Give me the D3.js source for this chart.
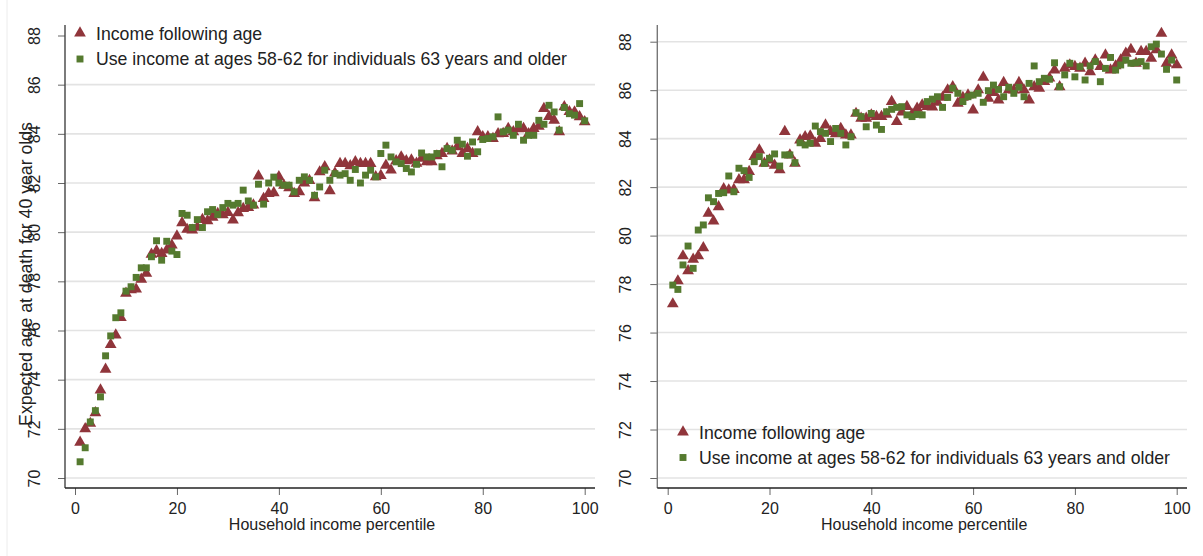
<!DOCTYPE html>
<html>
<head>
<meta charset="utf-8">
<script src="https://cdn.jsdelivr.net/npm/d3@7"></script>
<style>
  body { margin: 0; background: #fff; }
  svg { display: block; }
</style>
</head>
<body>
<div id="chart"></div>
<script>
// household income percentile (x categories)
const percentiles = [1,2,3,4,5,6,7,8,9,10,11,12,13,14,15,16,17,18,19,20,
  21,22,23,24,25,26,27,28,29,30,31,32,33,34,35,36,37,38,39,40,
  41,42,43,44,45,46,47,48,49,50,51,52,53,54,55,56,57,58,59,60,
  61,62,63,64,65,66,67,68,69,70,71,72,73,74,75,76,77,78,79,80,
  81,82,83,84,85,86,87,88,89,90,91,92,93,94,95,96,97,98,99,100];

const xTicks = [0, 20, 40, 60, 80, 100];
const yTicks = [70, 72, 74, 76, 78, 80, 82, 84, 86, 88];
const legendLabels = ["Income following age", "Use income at ages 58-62 for individuals 63 years and older"];
const xTitle = "Household income percentile";
const yTitle = "Expected age at death for 40 year olds";

// left panel
const leftFollowAge = [71.45,72.0,72.22,72.65,73.58,74.42,75.43,75.81,76.52,77.51,
  77.65,77.68,78.08,78.32,79.1,79.24,79.13,79.27,79.47,79.84,
  80.38,80.11,80.08,80.2,80.51,80.46,80.6,80.76,80.7,80.8,
  80.49,80.79,80.96,81.0,81.1,82.28,81.37,81.57,81.6,82.25,
  81.9,81.8,81.57,81.64,82.0,82.1,81.4,82.45,82.66,81.68,
  82.4,82.79,82.79,82.7,82.86,82.79,82.79,82.79,82.25,82.3,
  82.72,82.52,82.9,83.06,82.9,82.93,82.8,83.0,82.86,82.86,
  83.1,83.2,83.4,83.3,83.47,83.2,83.4,83.2,84.08,83.88,
  83.88,83.81,84.0,84.01,84.21,84.08,84.2,84.21,84.0,84.21,
  84.3,85.03,84.7,84.55,84.08,85.1,84.9,84.89,84.69,84.49];
const leftFixedIncome = [70.66,71.23,72.28,72.74,73.3,74.97,75.78,76.52,76.72,77.6,
  77.78,78.16,78.55,78.55,79.0,79.65,78.86,79.63,79.23,79.09,
  80.76,80.69,80.19,80.51,80.19,80.83,80.92,80.72,81.0,81.17,
  81.1,81.17,81.71,81.27,81.1,81.95,81.14,82.0,82.24,82.0,
  81.91,81.91,81.64,82.11,82.25,82.11,81.5,81.84,82.52,82.11,
  82.38,82.32,82.38,82.11,82.55,82.0,82.32,82.52,82.25,83.2,
  83.54,83.06,82.86,82.79,82.59,82.45,82.76,83.22,83.06,83.06,
  83.2,82.66,83.4,83.33,83.74,83.58,83.09,83.67,83.27,83.77,
  83.81,83.88,84.69,84.08,84.15,83.94,84.39,83.74,83.94,83.94,
  84.55,84.39,85.16,84.89,84.15,85.07,84.82,84.76,85.23,84.53];

// right panel
const rightFollowAge = [77.18,78.13,79.16,78.55,79.02,79.16,79.5,80.92,80.6,81.19,
  81.93,81.88,81.9,82.3,82.3,82.64,83.26,83.53,82.98,83.12,
  82.9,82.71,84.29,83.32,82.98,83.94,84.08,84.11,83.81,84.0,
  84.56,84.29,84.2,84.42,84.15,84.15,85.04,84.84,84.84,84.97,
  84.91,84.91,85.0,85.53,84.7,85.1,85.32,85.0,85.25,85.39,
  85.32,85.3,85.5,85.7,86.01,86.14,85.46,85.7,85.8,85.18,
  86.01,86.53,85.66,85.9,85.59,86.31,86.01,86.0,86.31,86.01,
  85.59,86.14,86.08,86.35,86.5,86.83,86.14,86.9,87.04,86.97,
  86.9,87.11,86.76,87.24,86.97,87.45,86.83,87.0,87.24,87.52,
  87.68,87.11,87.59,87.59,87.31,87.66,88.34,87.11,87.45,87.04];
const rightFixedIncome = [77.96,77.78,78.79,79.57,78.65,80.23,80.44,81.56,81.4,81.74,
  81.77,82.46,81.81,82.78,82.68,82.4,83.05,83.26,82.98,83.19,
  83.37,82.87,83.33,83.33,83.01,83.83,83.74,83.81,84.52,84.29,
  84.22,83.88,84.42,84.22,83.74,84.08,85.07,84.91,84.49,85.04,
  84.56,84.38,85.11,85.21,85.29,85.32,84.98,84.91,85.0,84.98,
  85.53,85.63,85.73,85.29,85.7,86.08,85.87,85.53,85.73,85.8,
  85.87,85.5,85.98,86.21,86.03,85.73,86.12,85.87,86.12,85.73,
  86.28,87.0,86.35,86.49,86.45,87.13,86.14,86.63,87.11,86.55,
  86.97,86.42,87.0,87.18,86.35,86.9,87.35,86.83,87.04,87.24,
  87.11,87.13,87.18,87.0,87.79,87.9,87.49,86.86,87.24,86.42];

const W = 1203, H = 556;
const font = "'Liberation Sans', Arial, sans-serif";
const maroon = "#90353b", green = "#557a2f";

const svg = d3.select("#chart").append("svg")
  .attr("width", W).attr("height", H)
  .style("font-family", font);

// faint border of graph region
svg.append("line").attr("x1", 7).attr("x2", 7).attr("y1", 0).attr("y2", H)
  .attr("stroke", "#ececec").attr("stroke-width", 1);

const triangle = d3.symbol().type(d3.symbolTriangle).size(60);
const square = d3.symbol().type(d3.symbolSquare).size(48);

function drawPanel(p) {
  const x = d3.scaleLinear().domain([0, 100]).range([p.x0, p.x100]);
  const y = d3.scaleLinear().domain([70, 88]).range([p.y70, p.y88]);
  const g = svg.append("g");

  // grid
  g.selectAll("line.grid").data(yTicks.filter(p.gridFilter)).join("line")
    .attr("class", "grid")
    .attr("x1", p.axisX).attr("x2", p.right)
    .attr("y1", d => y(d)).attr("y2", d => y(d))
    .attr("stroke", "#e3e3e3").attr("stroke-width", 1.6);

  // y axis
  const ya = g.append("g").attr("transform", `translate(${p.axisX},0)`)
    .call(d3.axisLeft(y).tickValues(yTicks).tickSize(7).tickSizeOuter(0));
  ya.select(".domain").remove();
  ya.selectAll(".tick line").attr("stroke", "#666");
  ya.selectAll(".tick text")
    .attr("transform", "rotate(-90)")
    .attr("x", 0).attr("y", -p.yLabOff).attr("dy", 0)
    .attr("text-anchor", "middle")
    .attr("fill", "#222").style("font-size", "16px").style("font-family", font);
  g.append("line").attr("x1", p.axisX).attr("x2", p.axisX)
    .attr("y1", 25).attr("y2", 488).attr("stroke", p.yAxisColor).attr("stroke-width", 1.4);

  // x axis
  const xa = g.append("g").attr("transform", "translate(0,488)")
    .call(d3.axisBottom(x).tickValues(xTicks).tickSize(7).tickSizeOuter(0));
  xa.select(".domain").remove();
  xa.selectAll(".tick line").attr("stroke", "#666");
  xa.selectAll(".tick text").attr("y", 26).attr("dy", 0)
    .attr("fill", "#222").style("font-size", "16px").style("font-family", font);
  g.append("line").attr("x1", p.axisX).attr("x2", p.right)
    .attr("y1", 488).attr("y2", 488).attr("stroke", "#222").attr("stroke-width", 1.4);

  g.append("text").attr("x", (p.axisX + p.right) / 2 + 2).attr("y", 530)
    .attr("text-anchor", "middle").attr("fill", "#222")
    .style("font-size", "16px").text(xTitle);

  if (p.showYTitle) {
    g.append("text")
      .attr("transform", `translate(32,274) rotate(-90)`)
      .attr("text-anchor", "middle").attr("fill", "#222")
      .style("font-size", "17.7px").text(yTitle);
  }

  // markers: triangles first, squares on top
  g.append("g").selectAll("path").data(percentiles).join("path")
    .attr("d", triangle)
    .attr("transform", (d, i) => `translate(${x(d)},${y(p.follow[i])})`)
    .attr("fill", maroon);
  g.append("g").selectAll("path").data(percentiles).join("path")
    .attr("d", square)
    .attr("transform", (d, i) => `translate(${x(d)},${y(p.fixed[i])})`)
    .attr("fill", green);

  // legend
  const lg = g.append("g");
  lg.append("path").attr("d", triangle)
    .attr("transform", `translate(${p.legX},${p.legY1 - 7})`).attr("fill", maroon);
  lg.append("path").attr("d", square)
    .attr("transform", `translate(${p.legX},${p.legY2 - 6})`).attr("fill", green);
  lg.append("text").attr("x", p.legX + 16).attr("y", p.legY1)
    .attr("fill", "#222").style("font-size", "17.7px").text(legendLabels[0]);
  lg.append("text").attr("x", p.legX + 16).attr("y", p.legY2)
    .attr("fill", "#222").style("font-size", "17.7px").text(legendLabels[1]);
}

drawPanel({
  x0: 75, x100: 584.7, y70: 478, y88: 35.5, axisX: 65, right: 595,
  yLabOff: 25.5, yAxisColor: "#444", gridFilter: d => d < 88, showYTitle: true,
  follow: leftFollowAge, fixed: leftFixedIncome,
  legX: 80, legY1: 40, legY2: 65
});

drawPanel({
  x0: 667.7, x100: 1176.7, y70: 478, y88: 41.7, axisX: 657.3, right: 1187,
  yLabOff: 26.3, yAxisColor: "#777", gridFilter: d => true, showYTitle: false,
  follow: rightFollowAge, fixed: rightFixedIncome,
  legX: 683, legY1: 439, legY2: 463.5
});
</script>
</body>
</html>
